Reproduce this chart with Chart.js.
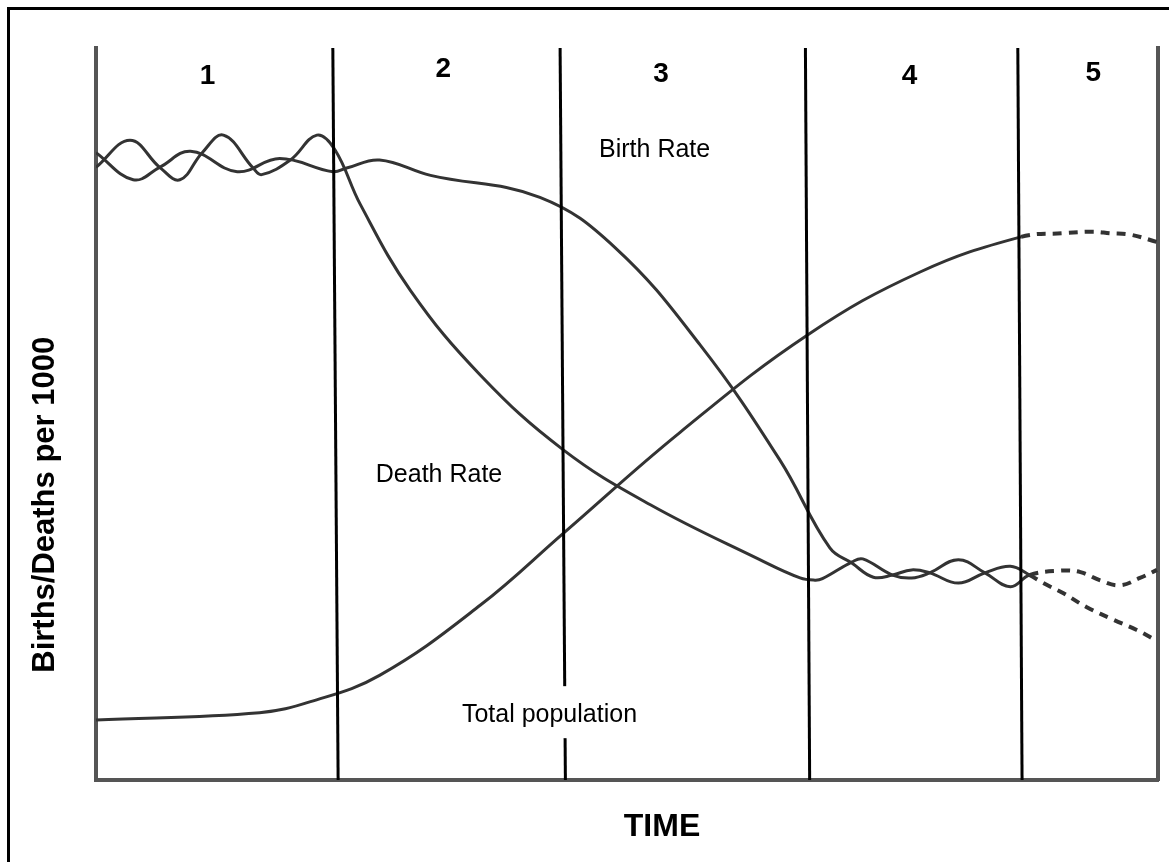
<!DOCTYPE html>
<html><head><meta charset="utf-8">
<script src="https://cdn.jsdelivr.net/npm/chart.js@4"></script>
<style>
html,body{margin:0;padding:0;background:#fff;overflow:hidden;width:1169px;height:862px;}
#frame{position:absolute;left:7px;top:7px;width:1200px;height:900px;border-top:3px solid #000;border-left:3px solid #000;}
#wrap{position:absolute;left:0;top:0;width:1169px;height:862px;}
</style></head><body>
<div id="frame"></div>
<div id="wrap"><canvas id="c" width="1169" height="862"></canvas></div>
<script>
// ---- data (time 0-100, rate 0-100) ----
const stageLabels = ['1', '2', '3', '4', '5'];
const stageTopX    = [22.3, 43.7, 66.8, 86.8];
const stageBottomX = [22.8, 44.2, 67.2, 87.2];
const stage5Start  = 87.0;

const birthX = [0, 3.5, 6.0, 8.9, 13.3, 17.3, 22.3, 23.6, 26.7, 31.5, 41.8, 48.9, 56.9, 64.4, 69.1, 71.2, 73.2, 75.0, 76.8, 78.5, 81.2, 83.7, 86.1, 87.9, 89.2, 91.1, 93.3, 95.8, 98.0, 99.9];
const birthY = [85.7, 82.0, 83.7, 85.9, 83.1, 84.9, 83.1, 83.6, 84.7, 82.6, 79.6, 72.7, 59.4, 43.7, 31.7, 29.6, 27.7, 28.0, 28.7, 28.3, 26.9, 28.3, 29.2, 28.0, 26.9, 25.5, 23.6, 21.9, 20.5, 19.0];

const deathX = [0, 3.2, 6.0, 7.9, 10.0, 12.0, 14.8, 15.6, 18.3, 20.8, 22.5, 24.9, 29.6, 36.2, 44.0, 52.2, 62.5, 66.3, 67.7, 68.4, 71.2, 72.2, 75.0, 76.8, 78.5, 81.2, 83.7, 86.1, 87.9, 90.8, 92.7, 94.5, 96.4, 98.3, 99.9];
const deathY = [83.7, 87.4, 83.7, 82.0, 85.7, 88.1, 83.6, 82.7, 84.7, 88.1, 86.1, 78.6, 66.9, 55.3, 45.1, 37.6, 30.1, 27.6, 27.3, 27.5, 29.8, 30.2, 28.0, 27.6, 28.3, 30.1, 28.3, 26.4, 28.0, 28.6, 28.4, 27.3, 26.6, 27.6, 28.7];

const popX = [0, 15.4, 20.2, 26.7, 36.2, 44.0, 55.0, 67.0, 77.6, 87.1, 91.1, 93.9, 95.5, 97.4, 99.9];
const popY = [8.2, 9.2, 10.7, 14.3, 23.9, 33.7, 47.5, 60.8, 69.4, 74.2, 74.7, 74.9, 74.7, 74.5, 73.5];

// ---- styling / layout ----
const FONT = "'Liberation Sans', Arial, sans-serif";
const curveColor = '#333333';
const axisColor = '#555555';
const toPts = (xs, ys) => xs.map((x, i) => ({ x: x, y: ys[i] }));
const dashAfterStage5 = { borderDash: ctx => (ctx.p0.parsed.x >= stage5Start ? [9, 7] : undefined), borderWidth: ctx => (ctx.p0.parsed.x >= stage5Start ? 4 : 3) };

const stageLabelPos = [[10.5, 96.2], [32.7, 97.1], [53.2, 96.4], [76.6, 96.2], [93.9, 96.6]];
const curveLabels = [
  { text: 'Birth Rate', x: 52.6, y: 85.1, box: false },
  { text: 'Death Rate', x: 32.3, y: 40.7, box: false },
  { text: 'Total population', x: 42.7, y: 7.9, box: true }
];
const xTitle = { text: 'TIME', x: 53.3, y: -7.65 };
const yTitle = { text: 'Births/Deaths per 1000', x: -4.8, y: 37.6 };

const dividerSets = stageTopX.map((tx, i) => ({
  data: [{ x: tx, y: 100 }, { x: stageBottomX[i], y: 0 }],
  borderColor: '#000', borderWidth: 3, pointRadius: 0, tension: 0, clip: 4
}));

const textPlugin = {
  id: 'texts',
  afterDatasetsDraw(chart) {
    const { ctx, scales: { x, y } } = chart;
    ctx.save();
    ctx.fillStyle = '#000';
    ctx.font = 'bold 28px ' + FONT;
    ctx.textAlign = 'center';
    ctx.textBaseline = 'middle';
    stageLabels.forEach((s, i) => {
      ctx.fillText(s, x.getPixelForValue(stageLabelPos[i][0]), y.getPixelForValue(stageLabelPos[i][1]));
    });
    ctx.font = '25px ' + FONT;
    ctx.textBaseline = 'alphabetic';
    curveLabels.forEach(l => {
      const px = x.getPixelForValue(l.x), py = y.getPixelForValue(l.y);
      if (l.box) {
        const w = ctx.measureText(l.text).width;
        ctx.fillStyle = '#fff';
        ctx.fillRect(px - w / 2 - 6, py - 36, w + 12, 52);
        ctx.fillStyle = '#000';
      }
      ctx.fillText(l.text, px, py);
    });
    ctx.font = 'bold 32px ' + FONT;
    ctx.fillText(xTitle.text, x.getPixelForValue(xTitle.x), y.getPixelForValue(xTitle.y));
    ctx.save();
    ctx.translate(x.getPixelForValue(yTitle.x), y.getPixelForValue(yTitle.y));
    ctx.rotate(-Math.PI / 2);
    ctx.font = 'bold 31px ' + FONT;
    ctx.textBaseline = 'middle';
    ctx.fillText(yTitle.text, 0, 0);
    ctx.restore();
    ctx.restore();
  }
};

const axisCommon = {
  type: 'linear', min: 0, max: 100,
  ticks: { display: false },
  grid: { display: false, drawTicks: false },
  border: { display: true, color: axisColor, width: 4 }
};

const curveStyle = { borderColor: curveColor, borderWidth: 3, pointRadius: 0, tension: 0.4, segment: dashAfterStage5 };

new Chart(document.getElementById('c'), {
  type: 'line',
  data: {
    datasets: [
      ...dividerSets,
      { label: 'Birth Rate', data: toPts(birthX, birthY), ...curveStyle },
      { label: 'Death Rate', data: toPts(deathX, deathY), ...curveStyle },
      { label: 'Total population', data: toPts(popX, popY), ...curveStyle }
    ]
  },
  options: {
    responsive: false,
    devicePixelRatio: 1,
    animation: false,
    layout: { padding: { left: 96, top: 48, right: 11, bottom: 82 } },
    plugins: { legend: { display: false }, tooltip: { enabled: false } },
    scales: {
      x: { ...axisCommon, position: 'bottom' },
      y: { ...axisCommon, position: 'left' },
      yR: { ...axisCommon, position: 'right' }
    }
  },
  plugins: [textPlugin]
});
</script>
</body></html>
